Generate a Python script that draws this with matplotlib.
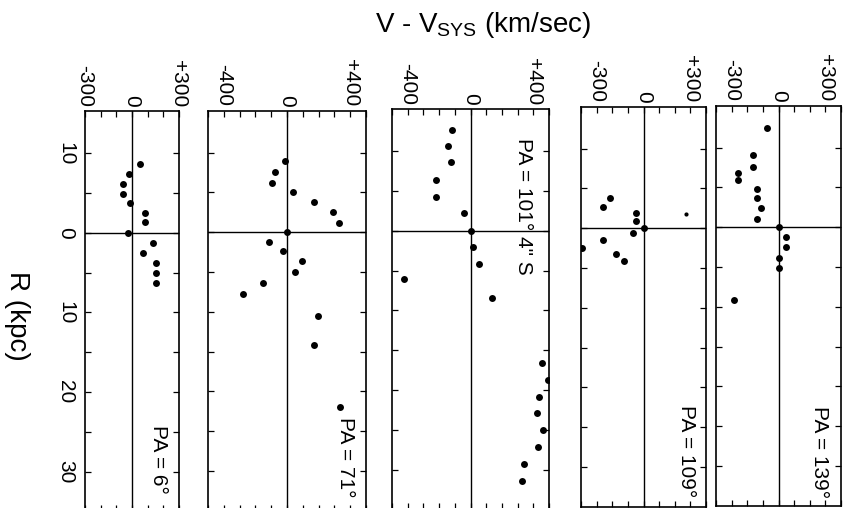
import matplotlib
matplotlib.use("Agg")
import matplotlib.pyplot as plt

plt.rcParams['font.family'] = ['Liberation Sans', 'DejaVu Sans']
plt.rcParams['mathtext.fontset'] = 'custom'
plt.rcParams['mathtext.rm'] = 'Liberation Sans'

# ---------------- data (V - Vsys in km/s, R in kpc) ----------------
pa6_R = [-8.7, -7.4, -6.1, -4.9, -3.8, -2.5, -1.3, 0.0, 1.3, 2.6, 3.8, 5.0, 6.3]
pa6_V = [51, -19, -57, -57, -15, 85, 85, -26, 132, 68, 153, 153, 153]

pa71_R = [-8.9, -7.6, -6.2, -5.0, -3.8, -2.5, -1.2, 0.0, 1.2, 2.3, 3.6, 5.0, 6.4, 7.7, 10.5, 14.2, 21.9]
pa71_V = [-15, -74, -95, 38, 173, 293, 329, 0, -112, -25, 92, 48, -155, -281, 196, 174, 335]

pa101_R = [-12.7, -10.7, -8.7, -6.4, -4.2, -2.2, 0.0, 2.0, 4.2, 6.1, 8.4,
           16.6, 18.8, 20.9, 22.9, 25.0, 27.2, 29.3, 31.4]
pa101_V = [-118, -146, -124, -222, -222, -42, 0, 13, 57, -426, 139,
           456, 494, 435, 422, 462, 427, 340, 329]

pa109_R = [-3.8, -2.7, -1.9, -0.9, 0.0, 0.6, 1.5, 2.5, 3.2, 4.1]
pa109_V = [-213, -258, -45, -51, 0, -68, -258, -395, -175, -122]
pa109_small_R = [-1.8]
pa109_small_V = [271]

pa139_R = [-12.5, -9.1, -7.6, -6.8, -6.0, -4.8, -3.7, -2.4, -1.1, 0.0, 1.2, 2.5, 3.9, 5.1, 9.1]
pa139_V = [-75, -162, -162, -258, -258, -139, -139, -109, -139, 0, 45, 45, 0, 0, -284]

panel_labels = ["PA = 6\u00b0", "PA = 71\u00b0", "PA = 101\u00b0 4\" S", "PA = 109\u00b0", "PA = 139\u00b0"]
label_pos = [(172, 28.5), (373, 28.2), (340, -3.1), (275, 28.0), (262, 28.2)]

v_limits = [(-300, 300), (-500, 500), (-500, 500), (-400, 400), (-400, 400)]
v_label_ticks = [[-300, 0, 300], [-400, 0, 400], [-400, 0, 400], [-300, 0, 300], [-300, 0, 300]]
v_label_text = [["-300", "0", "+300"], ["-400", "0", "+400"], ["-400", "0", "+400"],
                ["-300", "0", "+300"], ["-300", "0", "+300"]]

r_ticks = [-10, -5, 0, 5, 10, 15, 20, 25, 30]
r_label_text = ["10", "", "0", "", "10", "", "20", "", "30"]

series = [(pa6_V, pa6_R), (pa71_V, pa71_R), (pa101_V, pa101_R), (pa109_V, pa109_R), (pa139_V, pa139_R)]

# ---------------- layout (pixels) ----------------
W, H = 850, 508
panel_x = [(85, 179), (208, 366), (392, 549), (581, 706), (716, 841)]
panel_top = [111, 110.5, 109, 106.5, 105.5]
r_lim = (-15.3, 35.0)
px_per_kpc = 7.96
panel_h = (r_lim[1] - r_lim[0]) * px_per_kpc

fig = plt.figure(figsize=(W / 100, H / 100), dpi=100)

for i in range(5):
    x0, x1 = panel_x[i]
    top = panel_top[i]
    ax = fig.add_axes([x0 / W, (H - top - panel_h) / H, (x1 - x0) / W, panel_h / H])
    ax.set_xlim(*v_limits[i])
    ax.set_ylim(r_lim[1], r_lim[0])
    lo, hi = v_limits[i]
    vt = list(range(lo, hi + 1, 100))
    labels = []
    for v in vt:
        if v in v_label_ticks[i]:
            labels.append(v_label_text[i][v_label_ticks[i].index(v)])
        else:
            labels.append("")
    ax.set_xticks(vt)
    ax.set_xticklabels(labels)
    ax.set_yticks(r_ticks)
    ax.set_yticklabels(r_label_text)
    ax.tick_params(direction='in', length=4.5, width=0.9, top=True, bottom=True,
                   left=True, right=True, labeltop=True, labelbottom=False,
                   labelleft=(i == 0), labelright=False, labelsize=15)
    ax.tick_params(axis='x', pad=3)
    ax.tick_params(axis='y', pad=7)
    for lab in ax.get_xticklabels():
        lab.set_rotation(-90)
    for lab in ax.get_yticklabels():
        lab.set_rotation(-90)
        lab.set_verticalalignment('center')
    for s in ax.spines.values():
        s.set_linewidth(1.2)
    ax.axhline(0, color='black', lw=1.0)
    ax.axvline(0, color='black', lw=1.0)
    V, R = series[i]
    ax.plot(V, R, 'o', color='black', markersize=5.0, markeredgewidth=0)
    if i == 3:
        ax.plot(pa109_small_V, pa109_small_R, 'o', color='black', markersize=3, markeredgewidth=0)
    tx, ty = label_pos[i]
    ax.text(tx, ty, panel_labels[i], rotation=-90, ha='center', va='center', fontsize=15)

fig.text(483 / W, 1 - 25 / H, "V - V$_{\\rm SYS}$ (km/sec)", ha='center', va='center', fontsize=20)
fig.text(17 / W, 1 - 316 / H, "R (kpc)", rotation=-90, ha='center', va='center', fontsize=20)

fig.savefig("out.png", dpi=100)
